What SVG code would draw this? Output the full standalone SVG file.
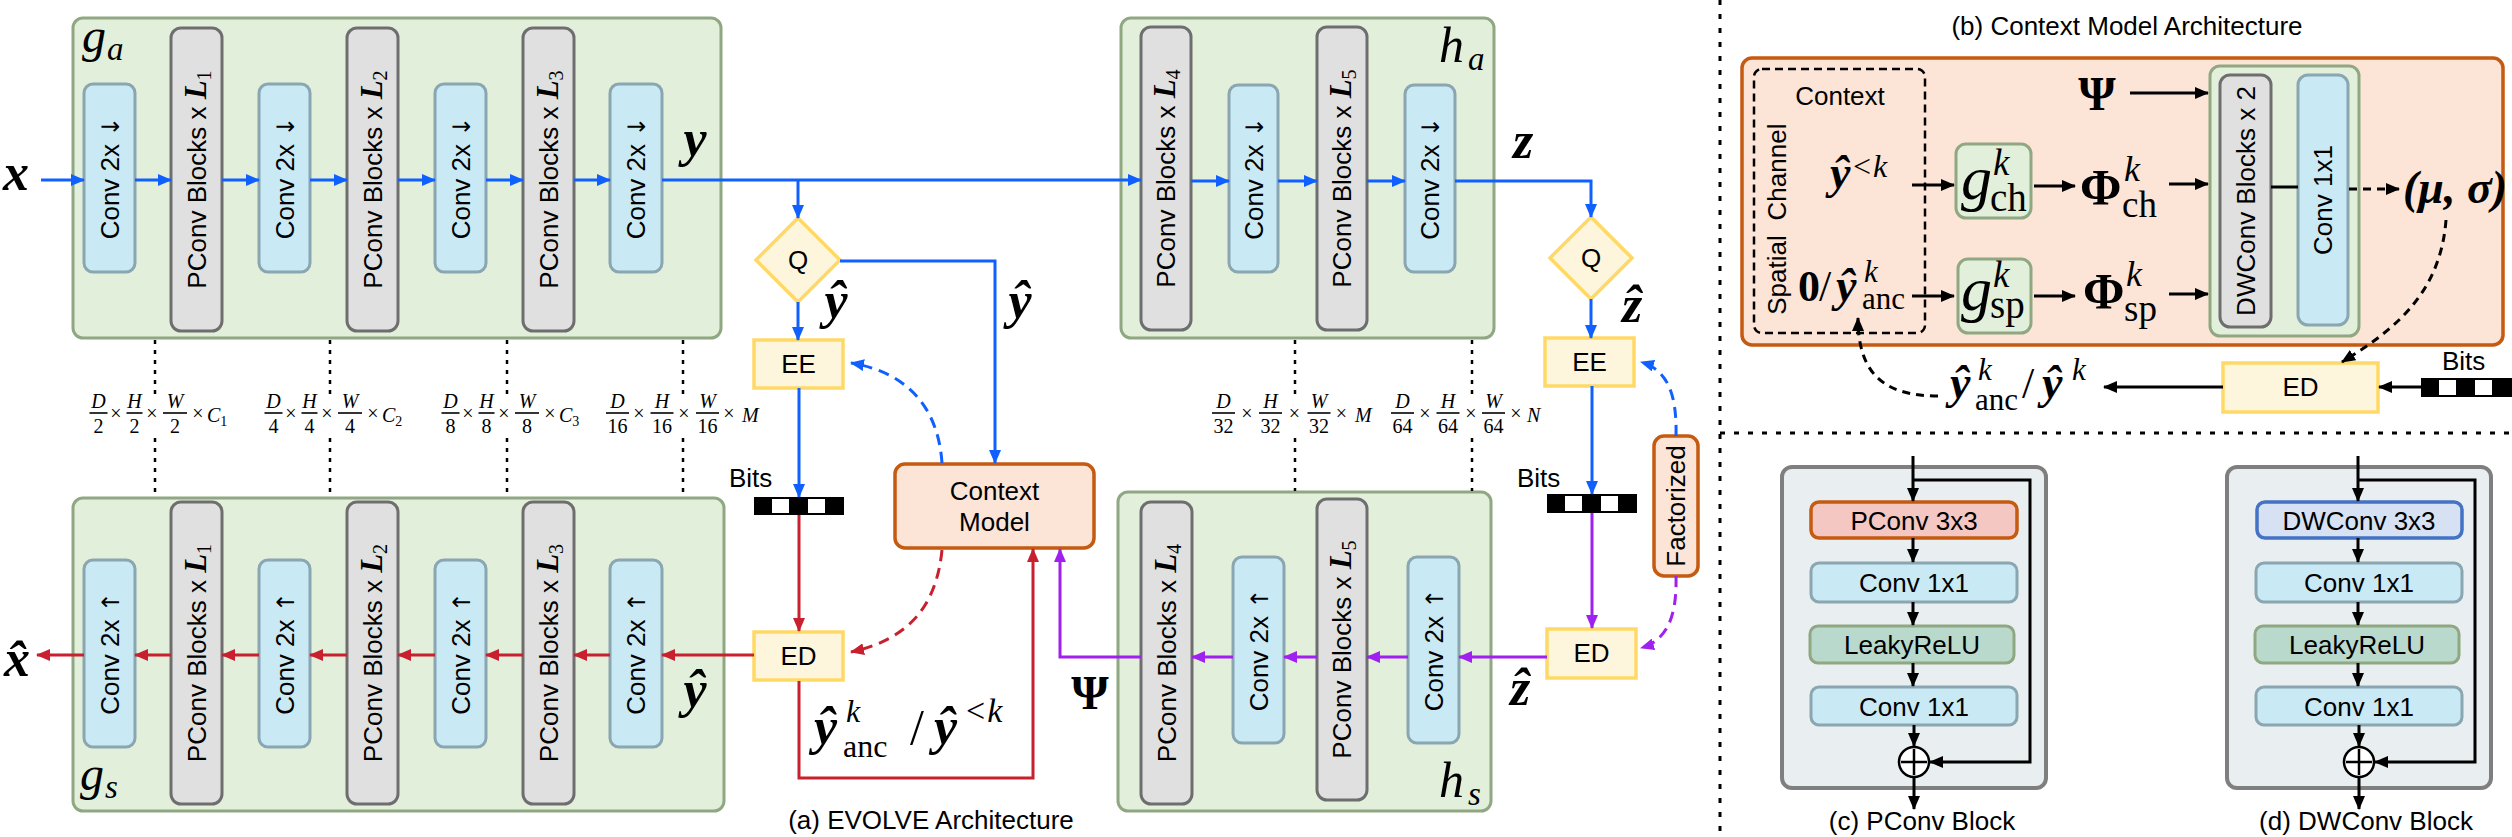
<svg xmlns="http://www.w3.org/2000/svg" width="2512" height="837" viewBox="0 0 2512 837">
<defs>
<style>
.lb{font-family:"Liberation Sans",Arial,Helvetica,sans-serif;font-size:26px;fill:#000;}
.vt{font-family:"Liberation Sans",Arial,Helvetica,sans-serif;font-size:26px;fill:#000;text-anchor:middle;}
.arw{font-family:"DejaVu Sans",sans-serif;font-size:24px;}
.bi{font-family:"Liberation Serif","Times New Roman",serif;font-weight:bold;font-style:italic;}
.it{font-family:"Liberation Serif","Times New Roman",serif;font-style:italic;}
.rm{font-family:"Liberation Serif","Times New Roman",serif;}
.panel{fill:#e2efda;stroke:#8fa882;stroke-width:3;}
.conv{fill:#c9e9f4;stroke:#8aa6b1;stroke-width:3;}
.pconv{fill:#e0e0e0;stroke:#6e6e6e;stroke-width:3;}
.yel{fill:#fdf5dc;stroke:#ffd966;stroke-width:3.5;}
.org{fill:#fce4d6;stroke:#c55a11;stroke-width:3.5;}
.blue{fill:none;stroke:#1060ff;stroke-width:3;}
.red{fill:none;stroke:#c8202f;stroke-width:3;}
.pur{fill:none;stroke:#a020f0;stroke-width:3;}
.blk{fill:none;stroke:#000;stroke-width:3;}
.dot{fill:none;stroke:#000;stroke-width:2.5;stroke-dasharray:4 6;}
.div{fill:none;stroke:#000;stroke-width:3;stroke-dasharray:5 9;}
.fr{font-family:"Liberation Serif","Times New Roman",serif;font-size:20px;text-anchor:middle;}
.bar{stroke:#000;stroke-width:1.6;}
.blkpanel{fill:#e9eef0;stroke:#7f7f7f;stroke-width:4;}
</style>
<marker id="ab" viewBox="0 0 14 12" refX="13" refY="6" markerWidth="14" markerHeight="12" markerUnits="userSpaceOnUse" orient="auto"><path d="M0,0 L14,6 L0,12 z" fill="#1060ff"/></marker>
<marker id="ar" viewBox="0 0 14 12" refX="13" refY="6" markerWidth="14" markerHeight="12" markerUnits="userSpaceOnUse" orient="auto"><path d="M0,0 L14,6 L0,12 z" fill="#c8202f"/></marker>
<marker id="ap" viewBox="0 0 14 12" refX="13" refY="6" markerWidth="14" markerHeight="12" markerUnits="userSpaceOnUse" orient="auto"><path d="M0,0 L14,6 L0,12 z" fill="#a020f0"/></marker>
<marker id="ak" viewBox="0 0 14 12" refX="13" refY="6" markerWidth="14" markerHeight="12" markerUnits="userSpaceOnUse" orient="auto"><path d="M0,0 L14,6 L0,12 z" fill="#000"/></marker>
</defs>
<rect width="2512" height="837" fill="#fff"/>

<!-- ============ (a) panels ============ -->
<g id="ga">
<rect class="panel" x="73" y="18" width="648" height="320" rx="10"/>
<text class="it" x="82" y="52" font-size="48">g</text><text class="it" x="107" y="60" font-size="33">a</text>
<rect class="conv" x="84" y="84" width="51" height="188" rx="9"/>
<text class="vt" x="109.5" y="187" transform="rotate(-90 109.5 178)">Conv 2x <tspan class="arw">↓</tspan></text>
<rect class="pconv" x="171" y="28" width="51" height="303" rx="10"/>
<text class="vt" font-size="27" x="196.5" y="188.5" transform="rotate(-90 196.5 179.5)">PConv Blocks x <tspan class="bi" font-size="31">L</tspan><tspan class="rm" font-size="20" dy="5">1</tspan></text>
<rect class="conv" x="259" y="84" width="51" height="188" rx="9"/>
<text class="vt" x="284.5" y="187" transform="rotate(-90 284.5 178)">Conv 2x <tspan class="arw">↓</tspan></text>
<rect class="pconv" x="347" y="28" width="51" height="303" rx="10"/>
<text class="vt" font-size="27" x="372.5" y="188.5" transform="rotate(-90 372.5 179.5)">PConv Blocks x <tspan class="bi" font-size="31">L</tspan><tspan class="rm" font-size="20" dy="5">2</tspan></text>
<rect class="conv" x="435" y="84" width="51" height="188" rx="9"/>
<text class="vt" x="460.5" y="187" transform="rotate(-90 460.5 178)">Conv 2x <tspan class="arw">↓</tspan></text>
<rect class="pconv" x="523" y="28" width="51" height="303" rx="10"/>
<text class="vt" font-size="27" x="548.5" y="188.5" transform="rotate(-90 548.5 179.5)">PConv Blocks x <tspan class="bi" font-size="31">L</tspan><tspan class="rm" font-size="20" dy="5">3</tspan></text>
<rect class="conv" x="610" y="84" width="52" height="188" rx="9"/>
<text class="vt" x="636" y="187" transform="rotate(-90 636 178)">Conv 2x <tspan class="arw">↓</tspan></text>
<text class="bi" x="695" y="156" font-size="52" text-anchor="middle">y</text>
</g>

<g id="gs">
<rect class="panel" x="73" y="498" width="651" height="313" rx="10"/>
<text class="it" x="80" y="790" font-size="48">g</text><text class="it" x="105" y="798" font-size="33">s</text>
<rect class="conv" x="84" y="560" width="51" height="187" rx="9"/>
<text class="vt" x="109.5" y="662.5" transform="rotate(-90 109.5 653.5)">Conv 2x <tspan class="arw">↑</tspan></text>
<rect class="pconv" x="171" y="502" width="51" height="302" rx="10"/>
<text class="vt" font-size="27" x="196.5" y="662" transform="rotate(-90 196.5 653)">PConv Blocks x <tspan class="bi" font-size="31">L</tspan><tspan class="rm" font-size="20" dy="5">1</tspan></text>
<rect class="conv" x="259" y="560" width="51" height="187" rx="9"/>
<text class="vt" x="284.5" y="662.5" transform="rotate(-90 284.5 653.5)">Conv 2x <tspan class="arw">↑</tspan></text>
<rect class="pconv" x="347" y="502" width="51" height="302" rx="10"/>
<text class="vt" font-size="27" x="372.5" y="662" transform="rotate(-90 372.5 653)">PConv Blocks x <tspan class="bi" font-size="31">L</tspan><tspan class="rm" font-size="20" dy="5">2</tspan></text>
<rect class="conv" x="435" y="560" width="51" height="187" rx="9"/>
<text class="vt" x="460.5" y="662.5" transform="rotate(-90 460.5 653.5)">Conv 2x <tspan class="arw">↑</tspan></text>
<rect class="pconv" x="523" y="502" width="51" height="302" rx="10"/>
<text class="vt" font-size="27" x="548.5" y="662" transform="rotate(-90 548.5 653)">PConv Blocks x <tspan class="bi" font-size="31">L</tspan><tspan class="rm" font-size="20" dy="5">3</tspan></text>
<rect class="conv" x="610" y="560" width="52" height="187" rx="9"/>
<text class="vt" x="636" y="662.5" transform="rotate(-90 636 653.5)">Conv 2x <tspan class="arw">↑</tspan></text>
<text class="bi" x="695" y="707" font-size="52" text-anchor="middle">ŷ</text>
</g>

<g id="ha">
<rect class="panel" x="1121" y="18" width="373" height="320" rx="10"/>
<text class="it" x="1439" y="62" font-size="50">h</text><text class="it" x="1468" y="70" font-size="33">a</text>
<rect class="pconv" x="1141" y="27" width="50" height="303" rx="10"/>
<text class="vt" font-size="27" x="1166" y="187.5" transform="rotate(-90 1166 178.5)">PConv Blocks x <tspan class="bi" font-size="31">L</tspan><tspan class="rm" font-size="20" dy="5">4</tspan></text>
<rect class="conv" x="1229" y="85" width="49" height="187" rx="9"/>
<text class="vt" x="1253.5" y="187.5" transform="rotate(-90 1253.5 178.5)">Conv 2x <tspan class="arw">↓</tspan></text>
<rect class="pconv" x="1317" y="27" width="50" height="303" rx="10"/>
<text class="vt" font-size="27" x="1342" y="187.5" transform="rotate(-90 1342 178.5)">PConv Blocks x <tspan class="bi" font-size="31">L</tspan><tspan class="rm" font-size="20" dy="5">5</tspan></text>
<rect class="conv" x="1405" y="85" width="50" height="187" rx="9"/>
<text class="vt" x="1430" y="187.5" transform="rotate(-90 1430 178.5)">Conv 2x <tspan class="arw">↓</tspan></text>
</g>

<g id="hs">
<rect class="panel" x="1118" y="492" width="373" height="319" rx="10"/>
<text class="it" x="1439" y="797" font-size="50">h</text><text class="it" x="1468" y="805" font-size="33">s</text>
<rect class="pconv" x="1141" y="502" width="51" height="302" rx="10"/>
<text class="vt" font-size="27" x="1166.5" y="662" transform="rotate(-90 1166.5 653)">PConv Blocks x <tspan class="bi" font-size="31">L</tspan><tspan class="rm" font-size="20" dy="5">4</tspan></text>
<rect class="conv" x="1233" y="557" width="51" height="186" rx="9"/>
<text class="vt" x="1258.5" y="659" transform="rotate(-90 1258.5 650)">Conv 2x <tspan class="arw">↑</tspan></text>
<rect class="pconv" x="1317" y="499" width="50" height="301" rx="10"/>
<text class="vt" font-size="27" x="1342" y="658.5" transform="rotate(-90 1342 649.5)">PConv Blocks x <tspan class="bi" font-size="31">L</tspan><tspan class="rm" font-size="20" dy="5">5</tspan></text>
<rect class="conv" x="1408" y="557" width="51" height="186" rx="9"/>
<text class="vt" x="1433.5" y="659" transform="rotate(-90 1433.5 650)">Conv 2x <tspan class="arw">↑</tspan></text>
</g>

<g id="q1"><path class="yel" d="M798,218 L840,260 L798,302 L756,260 Z"/><text class="lb" x="798" y="269" text-anchor="middle">Q</text></g>
<g id="q2"><path class="yel" d="M1591,217 L1632,258 L1591,299 L1550,258 Z"/><text class="lb" x="1591" y="267" text-anchor="middle">Q</text></g>
<g id="ee1"><rect class="yel" x="754" y="340" width="89" height="48"/><text class="lb" x="798.5" y="373" text-anchor="middle">EE</text></g>
<g id="ee2"><rect class="yel" x="1545" y="338" width="89" height="48"/><text class="lb" x="1589.5" y="371" text-anchor="middle">EE</text></g>
<g id="ed1"><rect class="yel" x="754" y="632" width="89" height="48"/><text class="lb" x="798.5" y="665" text-anchor="middle">ED</text></g>
<g id="ed2"><rect class="yel" x="1547" y="629" width="89" height="49"/><text class="lb" x="1591.5" y="662" text-anchor="middle">ED</text></g>
<g id="cm"><rect class="org" x="895" y="464" width="199" height="84" rx="10"/>
<text class="lb" x="994.5" y="500" text-anchor="middle">Context</text><text class="lb" x="994.5" y="531" text-anchor="middle">Model</text></g>
<g id="fact"><rect class="org" x="1654" y="436" width="44" height="140" rx="10"/>
<text class="vt" x="1676" y="515" transform="rotate(-90 1676 506)">Factorized</text></g>

<g id="bits1"><text class="lb" x="729" y="487">Bits</text>
<rect x="754" y="497" width="90" height="18" fill="#000"/><rect x="772" y="499" width="17" height="14" fill="#fff"/><rect x="808" y="499" width="17" height="14" fill="#fff"/></g>
<g id="bits2"><text class="lb" x="1517" y="487">Bits</text>
<rect x="1547" y="494" width="90" height="19" fill="#000"/><rect x="1565" y="496" width="17" height="15" fill="#fff"/><rect x="1601" y="496" width="17" height="15" fill="#fff"/></g>

<!-- math labels (a) -->
<g id="labels-a">
<text class="bi" x="16" y="190" font-size="52" text-anchor="middle">x</text>
<text class="bi" x="17" y="676" font-size="52" text-anchor="middle">x̂</text>
<text class="bi" x="836" y="318" font-size="52" text-anchor="middle">ŷ</text>
<text class="bi" x="1020" y="318" font-size="52" text-anchor="middle">ŷ</text>
<text class="bi" x="1523" y="158" font-size="52" text-anchor="middle">z</text>
<text class="bi" x="1632" y="322" font-size="52" text-anchor="middle">ẑ</text>
<text class="bi" x="1520" y="705" font-size="52" text-anchor="middle">ẑ</text>
<text class="rm" x="1090" y="709" font-size="48" font-weight="bold" text-anchor="middle">Ψ</text>
<text class="bi" x="814" y="744" font-size="52">ŷ</text>
<text class="it" x="846" y="722" font-size="32">k</text>
<text class="rm" x="843" y="757" font-size="32">anc</text>
<text class="rm" x="910" y="744" font-size="50">/</text>
<text class="bi" x="934" y="744" font-size="52">ŷ</text>
<text class="rm" x="966" y="722" font-size="34">&lt;<tspan class="it" dx="2">k</tspan></text>
<text class="lb" x="931" y="829" font-size="25" text-anchor="middle">(a) EVOLVE Architecture</text>
</g>

<!-- dimension annotations -->
<g id="dims" class="fr">
<path class="dot" d="M155,340 V395 M155,438 V497 M330,340 V395 M330,438 V497 M507,340 V395 M507,438 V497 M683,340 V395 M683,438 V497 M1295,340 V395 M1295,438 V491 M1472,340 V395 M1472,438 V491"/>
<g>
<text x="98.5" y="408" font-style="italic">D</text><line class="bar" x1="89.5" y1="413" x2="107.5" y2="413"/><text x="98.5" y="433">2</text>
<text x="116" y="420">×</text>
<text x="134.5" y="408" font-style="italic">H</text><line class="bar" x1="126.5" y1="413" x2="142.5" y2="413"/><text x="134.5" y="433">2</text>
<text x="152" y="420">×</text>
<text x="175" y="408" font-style="italic">W</text><line class="bar" x1="163" y1="413" x2="187" y2="413"/><text x="175" y="433">2</text>
<text x="198" y="420">×</text>
<text x="207" y="422" text-anchor="start" font-style="italic">C<tspan font-style="normal" font-size="14" dy="4">1</tspan></text>
</g>
<g transform="translate(175,0)">
<text x="98.5" y="408" font-style="italic">D</text><line class="bar" x1="89.5" y1="413" x2="107.5" y2="413"/><text x="98.5" y="433">4</text>
<text x="116" y="420">×</text>
<text x="134.5" y="408" font-style="italic">H</text><line class="bar" x1="126.5" y1="413" x2="142.5" y2="413"/><text x="134.5" y="433">4</text>
<text x="152" y="420">×</text>
<text x="175" y="408" font-style="italic">W</text><line class="bar" x1="163" y1="413" x2="187" y2="413"/><text x="175" y="433">4</text>
<text x="198" y="420">×</text>
<text x="207" y="422" text-anchor="start" font-style="italic">C<tspan font-style="normal" font-size="14" dy="4">2</tspan></text>
</g>
<g transform="translate(352,0)">
<text x="98.5" y="408" font-style="italic">D</text><line class="bar" x1="89.5" y1="413" x2="107.5" y2="413"/><text x="98.5" y="433">8</text>
<text x="116" y="420">×</text>
<text x="134.5" y="408" font-style="italic">H</text><line class="bar" x1="126.5" y1="413" x2="142.5" y2="413"/><text x="134.5" y="433">8</text>
<text x="152" y="420">×</text>
<text x="175" y="408" font-style="italic">W</text><line class="bar" x1="163" y1="413" x2="187" y2="413"/><text x="175" y="433">8</text>
<text x="198" y="420">×</text>
<text x="207" y="422" text-anchor="start" font-style="italic">C<tspan font-style="normal" font-size="14" dy="4">3</tspan></text>
</g>
<g>
<text x="617.5" y="408" font-style="italic">D</text><line class="bar" x1="606" y1="413" x2="629" y2="413"/><text x="617.5" y="433">16</text>
<text x="639" y="420">×</text>
<text x="662" y="408" font-style="italic">H</text><line class="bar" x1="650.5" y1="413" x2="673.5" y2="413"/><text x="662" y="433">16</text>
<text x="684" y="420">×</text>
<text x="707.5" y="408" font-style="italic">W</text><line class="bar" x1="696" y1="413" x2="719" y2="413"/><text x="707.5" y="433">16</text>
<text x="729" y="420">×</text>
<text x="742" y="422" text-anchor="start" font-style="italic">M</text>
</g>
<g>
<text x="1223.5" y="408" font-style="italic">D</text><line class="bar" x1="1212" y1="413" x2="1235" y2="413"/><text x="1223.5" y="433">32</text>
<text x="1247" y="420">×</text>
<text x="1270.5" y="408" font-style="italic">H</text><line class="bar" x1="1259" y1="413" x2="1282" y2="413"/><text x="1270.5" y="433">32</text>
<text x="1294.5" y="420">×</text>
<text x="1319" y="408" font-style="italic">W</text><line class="bar" x1="1307.5" y1="413" x2="1330.5" y2="413"/><text x="1319" y="433">32</text>
<text x="1341.5" y="420">×</text>
<text x="1355" y="422" text-anchor="start" font-style="italic">M</text>
</g>
<g>
<text x="1402.5" y="408" font-style="italic">D</text><line class="bar" x1="1391" y1="413" x2="1414" y2="413"/><text x="1402.5" y="433">64</text>
<text x="1425" y="420">×</text>
<text x="1448" y="408" font-style="italic">H</text><line class="bar" x1="1436.5" y1="413" x2="1459.5" y2="413"/><text x="1448" y="433">64</text>
<text x="1471" y="420">×</text>
<text x="1493.5" y="408" font-style="italic">W</text><line class="bar" x1="1482" y1="413" x2="1505" y2="413"/><text x="1493.5" y="433">64</text>
<text x="1516" y="420">×</text>
<text x="1527" y="422" text-anchor="start" font-style="italic">N</text>
</g>
</g>

<!-- connectors (a) -->
<g id="connectors-a">
<path class="blue" d="M41,180 H84" marker-end="url(#ab)"/>
<path class="blue" d="M135,180 H171" marker-end="url(#ab)"/>
<path class="blue" d="M222,180 H259" marker-end="url(#ab)"/>
<path class="blue" d="M310,180 H347" marker-end="url(#ab)"/>
<path class="blue" d="M398,180 H435" marker-end="url(#ab)"/>
<path class="blue" d="M486,180 H523" marker-end="url(#ab)"/>
<path class="blue" d="M574,180 H610" marker-end="url(#ab)"/>
<path class="blue" d="M662,180 H1141" marker-end="url(#ab)"/>
<path class="blue" d="M798,180 V218" stroke-width="2.5" marker-end="url(#ab)"/>
<path class="blue" d="M840,261 H995 V463" stroke-width="2.5" marker-end="url(#ab)"/>
<path class="blue" d="M798,302 V340" stroke-width="2.5" marker-end="url(#ab)"/>
<path class="blue" d="M799,388 V497" stroke-width="2.5" marker-end="url(#ab)"/>
<path class="blue" d="M1191,181 H1229" marker-end="url(#ab)"/>
<path class="blue" d="M1278,181 H1317" marker-end="url(#ab)"/>
<path class="blue" d="M1367,181 H1405" marker-end="url(#ab)"/>
<path class="blue" d="M1455,181 H1591 V217" marker-end="url(#ab)"/>
<path class="blue" d="M1591,299 V338" stroke-width="2.5" marker-end="url(#ab)"/>
<path class="blue" d="M1592,386 V494" stroke-width="2.5" marker-end="url(#ab)"/>
<path class="blue" d="M942,463 C938,405 905,372 851,363" stroke-width="2.5" stroke-dasharray="11 7" marker-end="url(#ab)"/>
<path class="blue" d="M1676,436 C1677,395 1668,370 1641,362" stroke-width="2.5" stroke-dasharray="11 7" marker-end="url(#ab)"/>
<path class="red" d="M799,515 V631" stroke-width="2.5" marker-end="url(#ar)"/>
<path class="red" d="M754,655 H662" marker-end="url(#ar)"/>
<path class="red" d="M610,655 H574" marker-end="url(#ar)"/>
<path class="red" d="M523,655 H486" marker-end="url(#ar)"/>
<path class="red" d="M435,655 H398" marker-end="url(#ar)"/>
<path class="red" d="M347,655 H310" marker-end="url(#ar)"/>
<path class="red" d="M259,655 H222" marker-end="url(#ar)"/>
<path class="red" d="M171,655 H135" marker-end="url(#ar)"/>
<path class="red" d="M84,655 H37" marker-end="url(#ar)"/>
<path class="red" d="M799,681 V778 H1033 V549" stroke-width="2.5" marker-end="url(#ar)"/>
<path class="red" d="M942,550 C936,610 905,640 851,652" stroke-width="2.5" stroke-dasharray="11 7" marker-end="url(#ar)"/>
<path class="pur" d="M1592,513 V628" stroke-width="2.5" marker-end="url(#ap)"/>
<path class="pur" d="M1547,657 H1459" marker-end="url(#ap)"/>
<path class="pur" d="M1408,657 H1367" marker-end="url(#ap)"/>
<path class="pur" d="M1317,657 H1284" marker-end="url(#ap)"/>
<path class="pur" d="M1233,657 H1192" marker-end="url(#ap)"/>
<path class="pur" d="M1141,657 H1060 V549" stroke-width="2.5" marker-end="url(#ap)"/>
<path class="pur" d="M1676,576 C1677,615 1668,640 1641,648" stroke-width="2.5" stroke-dasharray="11 7" marker-end="url(#ap)"/>
</g>

<!-- dividers -->
<path class="div" d="M1720,0 V837 M1720,433 H2512"/>

<!-- ============ (b) Context model ============ -->
<text class="lb" x="2127" y="35" font-size="27" text-anchor="middle">(b) Context Model Architecture</text>
<g id="cm-b">
<rect class="org" x="1742" y="58" width="761" height="287" rx="10" fill="#fbe5d8"/>
<rect x="1754" y="69" width="171" height="264" rx="8" fill="none" stroke="#000" stroke-width="2.5" stroke-dasharray="8 5"/>
<text class="lb" x="1840" y="105" font-size="27" text-anchor="middle">Context</text>
<text class="vt" x="1777" y="181" transform="rotate(-90 1777 172)">Channel</text>
<text class="vt" x="1777" y="284" transform="rotate(-90 1777 275)">Spatial</text>
<text class="bi" x="1830" y="188" font-size="46">ŷ</text>
<text class="rm" x="1853" y="177" font-size="32">&lt;<tspan class="it" dx="2">k</tspan></text>
<text class="rm" x="1798" y="301" font-size="44" font-weight="bold">0</text>
<text class="rm" x="1819" y="301" font-size="44">/</text>
<text class="bi" x="1836" y="301" font-size="46">ŷ</text>
<text class="it" x="1864" y="282" font-size="31">k</text>
<text class="rm" x="1862" y="309" font-size="31">anc</text>
</g>
<g id="gch"><rect class="panel" x="1956" y="144" width="75" height="74" rx="10"/>
<text class="it" x="1961" y="199" font-size="62">g</text><text class="it" x="1993" y="175" font-size="37">k</text><text class="rm" x="1990" y="211" font-size="39">ch</text></g>
<g id="gsp"><rect class="panel" x="1958" y="259" width="73" height="74" rx="10"/>
<text class="it" x="1961" y="310" font-size="62">g</text><text class="it" x="1993" y="287" font-size="37">k</text><text class="rm" x="1990" y="318" font-size="39">sp</text></g>
<g id="phi">
<text class="rm" x="2080" y="204" font-size="50" font-weight="bold">Φ</text><text class="it" x="2124" y="181" font-size="36">k</text><text class="rm" x="2122" y="217" font-size="37">ch</text>
<text class="rm" x="2083" y="308" font-size="50" font-weight="bold">Φ</text><text class="it" x="2126" y="286" font-size="36">k</text><text class="rm" x="2124" y="321" font-size="37">sp</text>
<text class="rm" x="2097" y="110" font-size="48" font-weight="bold" text-anchor="middle">Ψ</text>
</g>
<g id="fuse"><rect class="panel" x="2210" y="66" width="149" height="270" rx="10"/>
<rect class="pconv" x="2220" y="75" width="51" height="252" rx="10"/>
<text class="vt" font-size="27" x="2245.5" y="210" transform="rotate(-90 2245.5 201)">DWConv Blocks x 2</text>
<rect class="conv" x="2298" y="75" width="50" height="250" rx="10"/>
<text class="vt" x="2323" y="209" transform="rotate(-90 2323 200)">Conv 1x1</text></g>
<text class="bi" x="2455" y="203" font-size="46" text-anchor="middle">(μ, σ)</text>
<g id="ed-b"><rect class="yel" x="2223" y="363" width="155" height="49"/><text class="lb" x="2300.5" y="396" text-anchor="middle">ED</text></g>
<g id="bits3"><text class="lb" x="2442" y="370">Bits</text>
<rect x="2421" y="378" width="91" height="19" fill="#000"/><rect x="2439" y="380" width="17" height="15" fill="#fff"/><rect x="2475" y="380" width="17" height="15" fill="#fff"/></g>
<g id="lbl-b">
<text class="bi" x="1950" y="398" font-size="46">ŷ</text><text class="it" x="1978" y="380" font-size="31">k</text><text class="rm" x="1975" y="410" font-size="31">anc</text>
<text class="rm" x="2022" y="398" font-size="44">/</text>
<text class="bi" x="2042" y="398" font-size="46">ŷ</text><text class="it" x="2072" y="380" font-size="31">k</text>
</g>
<g id="connectors-b">
<path class="blk" d="M1912,185 H1954" stroke-width="2.5" marker-end="url(#ak)"/>
<path class="blk" d="M1912,296 H1954" stroke-width="2.5" marker-end="url(#ak)"/>
<path class="blk" d="M2034,186 H2075" marker-end="url(#ak)"/>
<path class="blk" d="M2034,296 H2075" marker-end="url(#ak)"/>
<path class="blk" d="M2169,184 H2208" marker-end="url(#ak)"/>
<path class="blk" d="M2169,294 H2208" marker-end="url(#ak)"/>
<path class="blk" d="M2130,93 H2208" marker-end="url(#ak)"/>
<path class="blk" d="M2271,187 H2298"/>
<path class="blk" d="M2349,189 H2399" stroke-width="2.5" stroke-dasharray="8 6" marker-end="url(#ak)"/>
<path class="blk" d="M2446,220 C2440,300 2385,335 2342,362" stroke-width="2.5" stroke-dasharray="8 6" marker-end="url(#ak)"/>
<path class="blk" d="M2421,387 H2379" marker-end="url(#ak)"/>
<path class="blk" d="M2223,387 H2104" marker-end="url(#ak)"/>
<path class="blk" d="M1938,396 C1880,396 1858,370 1858,318" stroke-width="2.5" stroke-dasharray="8 6" marker-end="url(#ak)"/>
</g>

<!-- ============ (c) PConv Block ============ -->
<g id="pconv-block">
<rect class="blkpanel" x="1782" y="467" width="264" height="321" rx="10"/>
<rect x="1811" y="502" width="206" height="36" rx="8" fill="#f4c7c3" stroke="#c55a11" stroke-width="3.5"/>
<text class="lb" x="1914" y="530" font-size="27" text-anchor="middle">PConv 3x3</text>
<rect class="conv" x="1811" y="563" width="206" height="39" rx="8"/>
<text class="lb" x="1914" y="592" font-size="27" text-anchor="middle">Conv 1x1</text>
<rect x="1810" y="626" width="204" height="37" rx="8" fill="#b9d9cd" stroke="#8fa882" stroke-width="3"/>
<text class="lb" x="1912" y="654" font-size="27" text-anchor="middle">LeakyReLU</text>
<rect class="conv" x="1811" y="687" width="206" height="38" rx="8"/>
<text class="lb" x="1914" y="716" font-size="27" text-anchor="middle">Conv 1x1</text>
<circle cx="1914" cy="762" r="15" fill="#fff" stroke="#000" stroke-width="2.5"/>
<path d="M1914,749 V775 M1901,762 H1927" stroke="#000" stroke-width="2.5"/>
<path class="blk" d="M1913,456 V501" stroke-width="2.5" marker-end="url(#ak)"/>
<path class="blk" d="M1913,480 H2030 V762 H1930" stroke-width="2.5" marker-end="url(#ak)"/>
<path class="blk" d="M1913,538 V562" stroke-width="2.5" marker-end="url(#ak)"/>
<path class="blk" d="M1913,602 V625" stroke-width="2.5" marker-end="url(#ak)"/>
<path class="blk" d="M1913,663 V686" stroke-width="2.5" marker-end="url(#ak)"/>
<path class="blk" d="M1914,725 V746" stroke-width="2.5" marker-end="url(#ak)"/>
<path class="blk" d="M1914,777 V809" stroke-width="2.5" marker-end="url(#ak)"/>
<text class="lb" x="1922" y="830" text-anchor="middle">(c) PConv Block</text>
</g>

<!-- ============ (d) DWConv Block ============ -->
<g id="dwconv-block">
<rect class="blkpanel" x="2227" y="467" width="264" height="321" rx="10"/>
<rect x="2257" y="502" width="205" height="36" rx="8" fill="#d6e2f3" stroke="#4472c4" stroke-width="3.5"/>
<text class="lb" x="2359" y="530" font-size="27" text-anchor="middle">DWConv 3x3</text>
<rect class="conv" x="2256" y="563" width="206" height="39" rx="8"/>
<text class="lb" x="2359" y="592" font-size="27" text-anchor="middle">Conv 1x1</text>
<rect x="2255" y="626" width="204" height="37" rx="8" fill="#b9d9cd" stroke="#8fa882" stroke-width="3"/>
<text class="lb" x="2357" y="654" font-size="27" text-anchor="middle">LeakyReLU</text>
<rect class="conv" x="2256" y="687" width="206" height="38" rx="8"/>
<text class="lb" x="2359" y="716" font-size="27" text-anchor="middle">Conv 1x1</text>
<circle cx="2359" cy="762" r="15" fill="#fff" stroke="#000" stroke-width="2.5"/>
<path d="M2359,749 V775 M2346,762 H2372" stroke="#000" stroke-width="2.5"/>
<path class="blk" d="M2358,456 V501" stroke-width="2.5" marker-end="url(#ak)"/>
<path class="blk" d="M2358,480 H2475 V762 H2375" stroke-width="2.5" marker-end="url(#ak)"/>
<path class="blk" d="M2358,538 V562" stroke-width="2.5" marker-end="url(#ak)"/>
<path class="blk" d="M2358,602 V625" stroke-width="2.5" marker-end="url(#ak)"/>
<path class="blk" d="M2358,663 V686" stroke-width="2.5" marker-end="url(#ak)"/>
<path class="blk" d="M2359,725 V746" stroke-width="2.5" marker-end="url(#ak)"/>
<path class="blk" d="M2359,777 V809" stroke-width="2.5" marker-end="url(#ak)"/>
<text class="lb" x="2366" y="830" text-anchor="middle">(d) DWConv Block</text>
</g>
</svg>
